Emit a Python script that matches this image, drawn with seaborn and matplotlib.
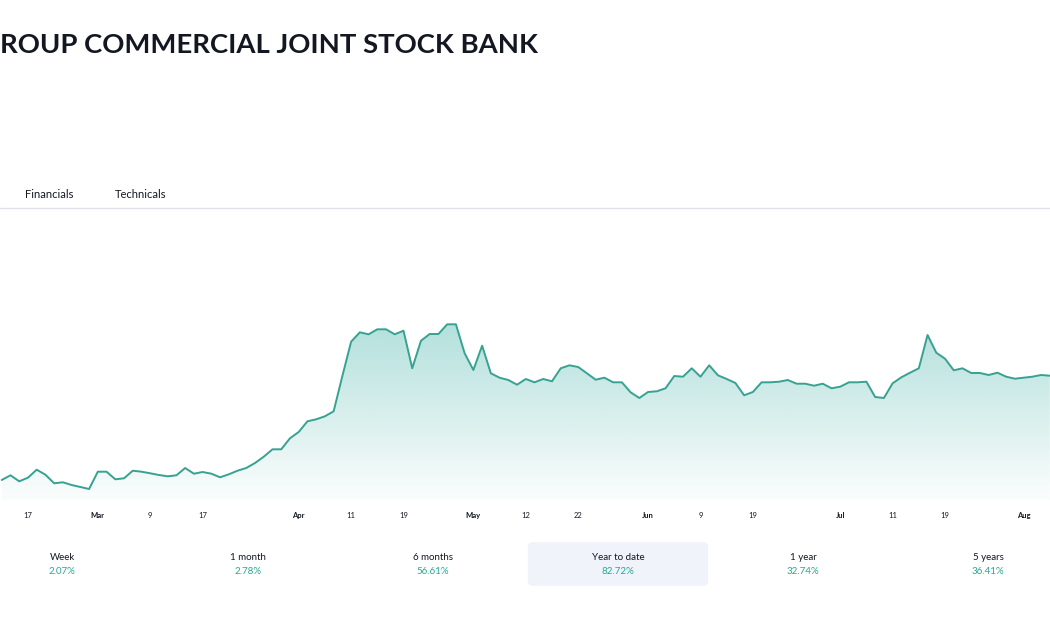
import numpy as np
import pandas as pd
import matplotlib
matplotlib.use("Agg")
import matplotlib.pyplot as plt
import seaborn as sns
from matplotlib.patches import Polygon, FancyBboxPatch
from matplotlib.lines import Line2D
from matplotlib import font_manager

# ---------------- data ----------------
title = "ROUP COMMERCIAL JOINT STOCK BANK"
tabs = ["Financials", "Technicals"]

close = [
    20.0, 24.7, 18.7, 22.3, 30.3, 25.3, 16.7, 17.7, 15.0, 13.0,
    11.0, 28.3, 28.3, 20.7, 21.7, 29.3, 28.3, 26.7, 25.0, 23.7,
    24.7, 32.0, 26.3, 28.0, 26.3, 22.7, 25.7, 29.3, 32.0, 37.0,
    43.3, 50.7, 50.7, 61.7, 68.0, 78.7, 80.7, 83.7, 88.7, 124.0,
    158.3, 167.7, 165.7, 170.7, 170.7, 165.7, 169.3, 131.7, 159.3, 166.0,
    166.0, 175.7, 175.7, 146.7, 130.0, 154.3, 126.7, 122.3, 120.0, 115.3,
    121.0, 117.7, 121.0, 118.7, 131.7, 134.7, 133.0, 126.7, 120.3, 122.3,
    117.7, 117.7, 107.7, 102.0, 108.0, 108.7, 111.7, 124.0, 123.3, 131.7,
    123.3, 134.7, 124.7, 121.0, 117.0, 104.7, 108.0, 117.7, 117.7, 118.3,
    120.0, 116.3, 116.3, 114.3, 116.3, 111.7, 113.3, 117.7, 117.7, 118.3,
    103.0, 102.0, 116.7, 122.7, 127.3, 131.7, 165.0, 147.3, 141.3, 129.7,
    131.7, 127.0, 127.0, 125.0, 127.3, 123.3, 121.3, 122.3, 123.3, 125.0,
    124.3,
]
tick_idx = [3, 11, 17, 23, 34, 40, 46, 54, 60, 66, 74, 80, 86, 96, 102, 108, 117]
tick_labels = ["17", "Mar", "9", "17", "Apr", "11", "19", "May", "12", "22",
               "Jun", "9", "19", "Jul", "11", "19", "Aug"]
month_labels = {"Mar", "Apr", "May", "Jun", "Jul", "Aug"}

periods = ["Week", "1 month", "6 months", "Year to date", "1 year", "5 years"]
changes = ["2.07%", "2.78%", "56.61%", "82.72%", "32.74%", "36.41%"]

df = pd.DataFrame({"idx": np.arange(len(close)), "close": close})

# ---------------- style ----------------
sns.set_theme(style="white")
plt.rcParams["font.family"] = ["Lato", "DejaVu Sans"]

installed = {f.name for f in font_manager.fontManager.ttflist}
title_family = "Lato"
for cand in ["Liberation Sans Narrow", "DejaVu Sans Condensed", "Lato"]:
    if cand in installed:
        title_family = cand
        break

W, H = 1050, 630
fig = plt.figure(figsize=(W / 100, H / 100), dpi=100)
fig.patch.set_facecolor("white")

def fx(x):
    return x / W

def fy(y):
    return 1 - y / H

TEXT = "#131722"
LINE = "#37a291"

# title (fit to the reference width) & tabs
t = fig.text(fx(0), fy(45), title, fontsize=22, fontweight="bold", color=TEXT,
             ha="left", va="center", family=[title_family, "DejaVu Sans"])
renderer = fig.canvas.get_renderer()
w = t.get_window_extent(renderer).width
fs = 22 * 537 / w
t.set_fontsize(min(fs, 24))

fig.text(fx(49), fy(194), tabs[0], fontsize=8, color=TEXT, ha="center", va="center")
fig.text(fx(141), fy(194), tabs[1], fontsize=8, color=TEXT, ha="center", va="center")
fig.add_artist(Line2D([0, 1], [fy(208.5), fy(208.5)], color="#e0e3eb", lw=1,
                      transform=fig.transFigure))

# ---------------- chart ----------------
ax_top, ax_bot = 220, 505
ax = fig.add_axes([0, fy(ax_bot), 1, (ax_bot - ax_top) / H])
ax.set_facecolor("none")

x0 = -0.2
x1 = len(close) - 1 + 0.02
sns.lineplot(data=df, x="idx", y="close", ax=ax, color=LINE, lw=1.4, zorder=3)

vmax = max(close)
n = 256
grad = np.linspace(0, 1, n).reshape(-1, 1)
rgba = np.zeros((n, 1, 4))
rgba[..., 0] = 38 / 255
rgba[..., 1] = 166 / 255
rgba[..., 2] = 154 / 255
rgba[..., 3] = 0.02 + 0.33 * grad
im = ax.imshow(rgba, extent=[x0 - 1, x1 + 1, 0, vmax], origin="lower",
               aspect="auto", zorder=1, interpolation="bilinear")
verts = [(df["idx"].iloc[0], 0)] + list(zip(df["idx"], df["close"])) + [(df["idx"].iloc[-1], 0)]
clip = Polygon(verts, closed=True, facecolor="none", edgecolor="none",
               transform=ax.transData)
ax.add_patch(clip)
im.set_clip_path(clip)

ax.set_xlim(x0, x1)
ax.set_ylim(-5, 280)
ax.set_xlabel("")
ax.set_ylabel("")
ax.set_yticks([])
ax.set_xticks(tick_idx)
ax.set_xticklabels(tick_labels)
for lab in ax.get_xticklabels():
    lab.set_fontsize(5.5)
    lab.set_color(TEXT)
    if lab.get_text() in month_labels:
        lab.set_fontweight("bold")
ax.tick_params(axis="x", length=0, pad=5)
for s in ax.spines.values():
    s.set_visible(False)

# ---------------- period performance ----------------
box = FancyBboxPatch((fx(531), fy(584)), fx(174), (584 - 544) / H,
                     boxstyle="round,pad=0.003,rounding_size=0.006",
                     transform=fig.transFigure, facecolor="#f0f3fa",
                     edgecolor="none", zorder=0)
fig.add_artist(box)
centers = [62, 248, 433, 618, 803, 988]
for cx, p, c in zip(centers, periods, changes):
    fig.text(fx(cx), fy(557), p, fontsize=7, color=TEXT, ha="center", va="center")
    fig.text(fx(cx), fy(572), c, fontsize=7, color="#22ab94", ha="center", va="center")

fig.savefig("out.png", dpi=100, facecolor="white")
